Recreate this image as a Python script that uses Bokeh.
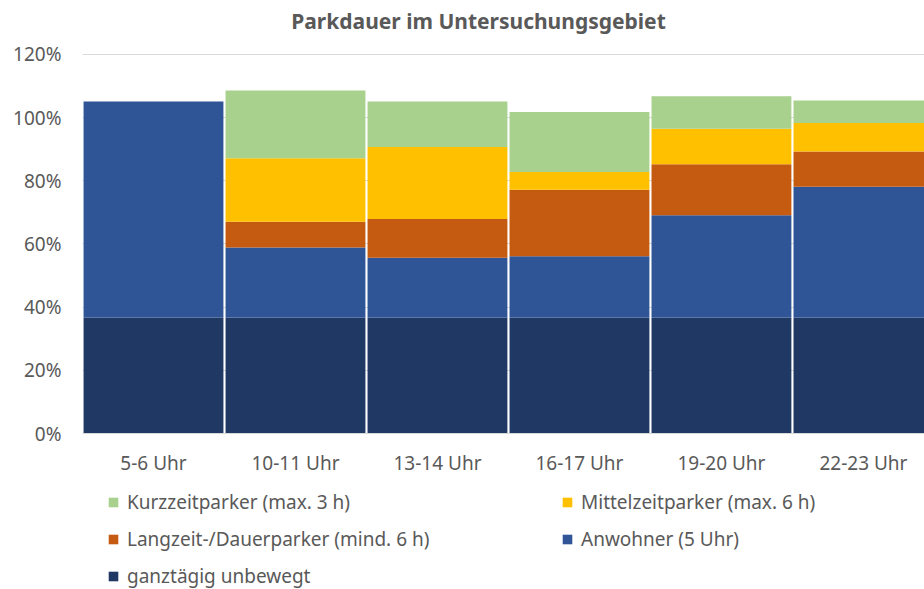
from bokeh.plotting import figure
from bokeh.models import Range1d, FixedTicker, PrintfTickFormatter, Legend, LegendItem, Label
from bokeh.layouts import column
from bokeh.embed import file_html
from bokeh.resources import INLINE

categories = ["5-6 Uhr", "10-11 Uhr", "13-14 Uhr", "16-17 Uhr", "19-20 Uhr", "22-23 Uhr"]
ganztaegig = [36.7, 36.7, 36.7, 36.7, 36.7, 36.7]
anwohner = [68.4, 22.2, 18.9, 19.4, 32.4, 41.4]
langzeit = [0.0, 8.1, 12.3, 21.1, 16.1, 11.2]
mittelzeit = [0.0, 20.1, 22.8, 5.6, 11.3, 9.0]
kurzzeit = [0.0, 21.5, 14.4, 19.0, 10.3, 7.1]
y_ticks = [0, 20, 40, 60, 80, 100, 120]

series_names = ["ganztaegig", "anwohner", "langzeit", "mittelzeit", "kurzzeit"]
labels = ["ganztägig unbewegt", "Anwohner (5 Uhr)", "Langzeit-/Dauerparker (mind. 6 h)",
          "Mittelzeitparker (max. 6 h)", "Kurzzeitparker (max. 3 h)"]
colors = ["#203864", "#2F5597", "#C55A11", "#FFC000", "#A9D18E"]
title_text = "Parkdauer im Untersuchungsgebiet"

FONT = "Noto Sans"
TXT = "#595959"

xs = [i + 0.5 for i in range(len(categories))]
data = dict(x=xs, ganztaegig=ganztaegig, anwohner=anwohner, langzeit=langzeit,
            mittelzeit=mittelzeit, kurzzeit=kurzzeit)


def bare(fig):
    fig.outline_line_color = None
    fig.grid.visible = False
    return fig


# --- title strip (frames are aligned with the chart's frame, which starts 82px in) ---
pt = bare(figure(width=924, height=40, output_backend="svg", toolbar_location=None,
                 x_axis_location=None, y_axis_location=None,
                 min_border=0, x_range=Range1d(0, 1), y_range=Range1d(0, 1)))
pt.add_layout(Label(x=396, y=20, x_units="screen", y_units="screen", text=title_text,
                    text_align="center", text_baseline="middle", text_font=FONT,
                    text_font_size="21px", text_font_style="bold", text_color=TXT))

# --- main chart ---
p = figure(width=924, height=440, output_backend="svg", toolbar_location=None,
           x_range=Range1d(0, 5.93), y_range=Range1d(0, 120.3),
           min_border_left=82, min_border_right=0, min_border_top=13, min_border_bottom=47)

renderers = p.vbar_stack(series_names, x="x", width=0.985, color=colors, line_color=None,
                         source=data)

p.outline_line_color = None
p.xgrid.grid_line_color = None
p.ygrid.grid_line_color = "#D9D9D9"
p.ygrid.ticker = FixedTicker(ticks=y_ticks)

p.yaxis.ticker = FixedTicker(ticks=y_ticks)
p.yaxis.formatter = PrintfTickFormatter(format="%d%%")
p.yaxis.axis_line_color = None
p.yaxis.major_tick_line_color = None
p.yaxis.minor_tick_line_color = None
p.yaxis.major_label_standoff = 15
p.yaxis.major_label_text_font = FONT
p.yaxis.major_label_text_font_size = "19px"
p.yaxis.major_label_text_color = TXT

p.xaxis.ticker = FixedTicker(ticks=xs)
p.xaxis.major_label_overrides = {x: c for x, c in zip(xs, categories)}
p.xaxis.axis_line_color = "#D9D9D9"
p.xaxis.major_tick_line_color = None
p.xaxis.minor_tick_line_color = None
p.xaxis.major_label_standoff = 10
p.xaxis.major_label_text_font = FONT
p.xaxis.major_label_text_font_size = "19px"
p.xaxis.major_label_text_color = TXT

# --- legend strip (its stacks sit outside the visible range; only the legend shows) ---
pl = bare(figure(width=924, height=109, output_backend="svg", toolbar_location=None,
                 x_axis_location=None, y_axis_location=None,
                 min_border=0, x_range=Range1d(-101, -100), y_range=Range1d(1000, 1001)))
leg_renderers = pl.vbar_stack(series_names, x="x", width=0.985, color=colors,
                              line_color=None, source=data)
order = [4, 3, 2, 1, 0]
items = [LegendItem(label=labels[i], renderers=[leg_renderers[i]]) for i in order]
legend = Legend(items=items, orientation="horizontal", ncols=2, location=(25, 0),
                glyph_width=12, glyph_height=12, label_standoff=8,
                label_width=423, label_height=20, spacing=11, padding=0, margin=0,
                border_line_color=None, background_fill_alpha=0,
                label_text_font=FONT, label_text_font_size="19px", label_text_color=TXT)
pl.add_layout(legend, "center")

layout = column(pt, p, pl, spacing=0)
open("out.html", "w").write(file_html(layout, INLINE))
